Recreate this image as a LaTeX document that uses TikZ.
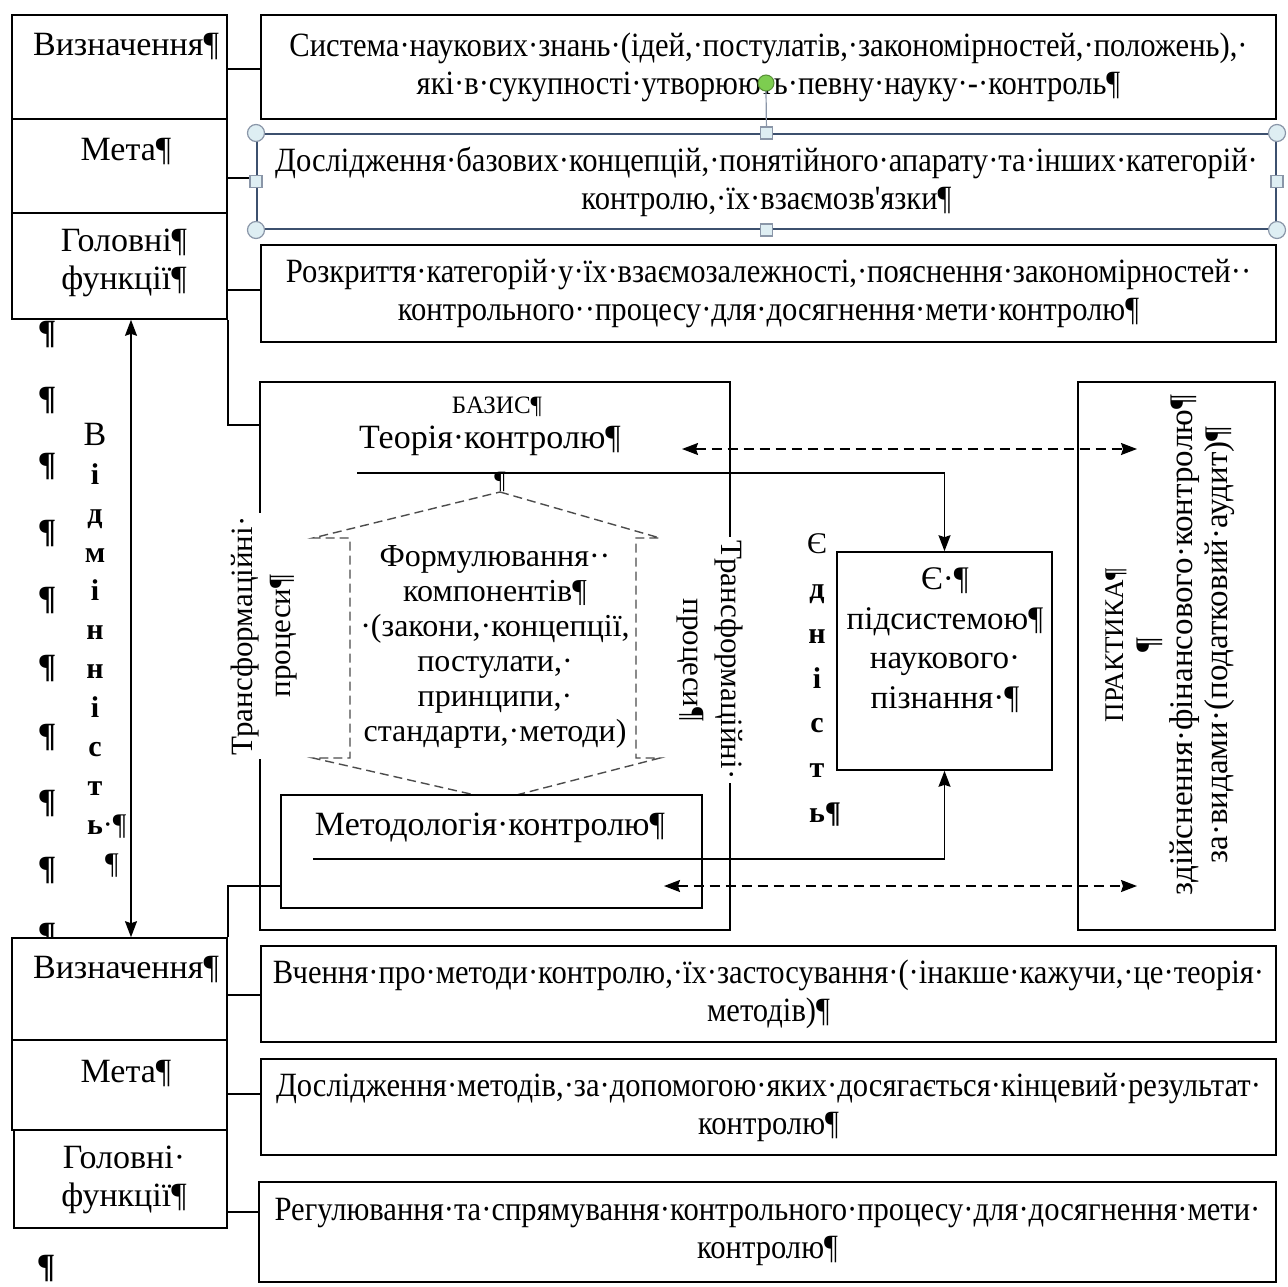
\documentclass[tikz,border=0pt]{standalone}
\usepackage{fontspec}
\setmainfont{Liberation Serif}
\newfontfamily\narrowserif[FakeStretch=0.9]{Liberation Serif}
\usetikzlibrary{arrows.meta}

\newcommand{\bodyfont}{\fontsize{34}{38}\selectfont}
\newcommand{\boxfont}{\narrowserif\fontsize{34}{38}\selectfont}
\newcommand{\capfont}{\fontsize{25}{30}\selectfont}
\newcommand{\sidefont}{\fontsize{33}{34.7}\selectfont}
\newcommand{\vidmfont}{\fontsize{30}{38.9}\selectfont}
\newcommand{\ednfont}{\fontsize{30}{44.8}\selectfont}
\definecolor{selline}{RGB}{60,80,110}
\definecolor{selfill}{RGB}{222,238,243}
\definecolor{selgreen}{RGB}{125,205,80}

\begin{document}
\begin{tikzpicture}[
    x=1pt, y=-1pt,
    >={Stealth[length=16pt,width=12pt,inset=2pt]},
    lbox/.style={
        draw,
        line width=1.6pt,
        fill=white,
        minimum width=215pt,
        inner sep=0pt
    },
    tbox/.style={
        draw,
        line width=1.6pt,
        fill=white,
        minimum width=1015pt,
        align=center,
        font=\boxfont,
        inner sep=0pt
    },
    frame/.style={draw, line width=1.6pt, inner sep=0pt},
    txt/.style={align=center, font=\bodyfont, inner sep=0pt},
    pil/.style={font=\bodyfont\bfseries, inner sep=0pt},
    link/.style={line width=1.6pt},
    dlink/.style={line width=1.6pt, dash pattern=on 10pt off 6pt},
    handle/.style={draw=selline!60, fill=selfill, line width=1.2pt}
]
\useasboundingbox (0,0) rectangle (1287,1287);

% top group
\node[lbox, minimum height=104pt] (def1) at (119.5,67) {};
\node[txt] (def1t) at (126,47) {Визначення¶};
\node[lbox, minimum height=94pt] (goal1) at (119.5,166) {};
\node[txt] (goal1t) at (126,152) {Мета¶};
\node[lbox, minimum height=106pt] (fn1) at (119.5,266) {};
\node[txt] (fn1t) at (124,263) {Головні¶\\функції¶};

\node[tbox, minimum height=104pt] (r1) at (768.5,67)
    {Система·наукових·знань·(ідей,·постулатів,·закономірностей,·положень),·\\які·в·сукупності·утворюють·певну·науку·-·контроль¶};
\node[tbox, minimum height=95pt, minimum width=1019pt, draw=selline, line width=2pt] (r2) at (766.5,181.5)
    {Дослідження·базових·концепцій,·понятійного·апарату·та·інших·категорій·\\контролю,·їх·взаємозв'язки¶};
\node[tbox, minimum height=97pt] (r3) at (768.5,293.5)
    {Розкриття·категорій·у·їх·взаємозалежності,·пояснення·закономірностей··\\контрольного··процесу·для·досягнення·мети·контролю¶};

\draw[link] (def1.east |- 0,69) -- (r1.west |- 0,69);
\draw[link] (goal1.east |- 0,178) -- (r2.west |- 0,178);
\draw[link] (fn1.east |- 0,290) -- (r3.west |- 0,290);

% selection handles
\draw[selline!60, line width=1.2pt] (r2.north) -- (766,91);
\draw[draw=selgreen!70!black, fill=selgreen, line width=1pt] (766,83) circle (8pt);
\draw[handle] (r2.north west) circle (8.5pt);
\draw[handle] (r2.north east) circle (8.5pt);
\draw[handle] (r2.south west) circle (8.5pt);
\draw[handle] (r2.south east) circle (8.5pt);
\node[handle, minimum size=12pt, inner sep=0pt] (hn) at (r2.north) {};
\node[handle, minimum size=12pt, inner sep=0pt] (hs) at (r2.south) {};
\node[handle, minimum size=12pt, inner sep=0pt] (hw) at (r2.west) {};
\node[handle, minimum size=12pt, inner sep=0pt] (he) at (r2.east) {};

% middle part
\node[frame, minimum width=470pt, minimum height=548pt] (basis) at (495,656) {};
\node[frame, minimum width=197pt, minimum height=548pt] (prak) at (1176.5,656) {};

\draw[gray!60!black, line width=1.4pt, dash pattern=on 9pt off 5pt]
    (500,492) -- (660,538) -- (636,538) -- (636,758) -- (660,758) -- (497,800)
    -- (313,758) -- (350,758) -- (350,538) -- (313,538) -- cycle;
\node[txt, font=\fontsize{32}{35}\selectfont] (formt) at (495,647)
    {Формулювання··\\компонентів¶\\·(закони,·концепції,\\постулати,·\\принципи,·\\стандарти,·методи)};

\node[frame, fill=white, minimum width=421pt, minimum height=113pt] (metod) at (491.5,851.5) {};
\node[txt] (metodt) at (490,828) {Методологія·контролю¶};

\node[txt, font=\capfont] (bazis) at (497,407) {БАЗИС¶};
\node[txt] (teor) at (490,441) {Теорія·контролю¶};
\node[txt, font=\capfont] (teorp) at (500,482) {¶};

\node[txt, rotate=90, fill=white, inner sep=4pt, font=\fontsize{31}{38}\selectfont] (trl) at (264,636) {Трансформаційні·\\процеси¶};
\node[txt, rotate=-90, fill=white, inner sep=4pt, font=\fontsize{31}{38}\selectfont] (trr) at (710,660) {Трансформаційні·\\процеси¶};

\node[frame, minimum width=215pt, minimum height=218pt] (ye) at (944.5,661) {};
\node[txt, font=\fontsize{33}{39.5}\selectfont] (yet) at (945,640) {Є·¶\\підсистемою¶\\наукового·\\пізнання·¶};

\node[txt, font=\ednfont] (edn) at (817,680)
    {Є\\\textbf{д}\\\textbf{н}\\\textbf{і}\\\textbf{с}\\\textbf{т}\\\textbf{ь}\rlap{\textbf{¶}}};

\node[txt, rotate=90, font=\sidefont] (prakt) at (1170,645)
    {{\fontsize{27}{34.7}\selectfont ПРАКТИКА¶}\\¶\\здійснення·фінансового·контролю¶\\за·видами·(податковий·аудит)¶};

\coordinate (tl) at (357,473);
\coordinate (ml) at (313,859);
\coordinate (dl1) at (682,449);
\coordinate (dr1) at (1137,449);
\coordinate (dl2) at (664,886);
\coordinate (dr2) at (1137,886);

\draw[link, ->] (tl) -| (ye.north);
\draw[link, ->] (ml) -| (ye.south);
\draw[dlink, <->] (dl1) -- (dr1);
\draw[dlink, <->] (dl2) -- (dr2);

% left column
\node[txt, font=\vidmfont] (vidm) at (95,650)
    {{\fontsize{34}{38.9}\selectfont В}\\\textbf{і}\\\textbf{д}\\\textbf{м}\\\textbf{і}\\\textbf{н}\\\textbf{н}\\\textbf{і}\\\textbf{с}\\\textbf{т}\\\textbf{ь}\rlap{·¶}\\\rlap{\hspace{10pt}¶}};

\node[pil] (p1) at (47,335) {¶};
\node[pil] (p2) at (47,401) {¶};
\node[pil] (p3) at (47,467) {¶};
\node[pil] (p4) at (47,534) {¶};
\node[pil] (p5) at (47,601) {¶};
\node[pil] (p6) at (47,669) {¶};
\node[pil] (p7) at (47,738) {¶};
\node[pil] (p8) at (47,804) {¶};
\node[pil] (p9) at (47,871) {¶};
\node[pil] (p10) at (47,936) {¶};
\node[pil] (p11) at (46,1268) {¶};

% bottom group
\node[lbox, minimum height=102pt] (def2) at (119.5,989) {};
\node[txt] (def2t) at (126,969) {Визначення¶};
\node[lbox, minimum height=90pt] (goal2) at (119.5,1085) {};
\node[txt] (goal2t) at (126,1073) {Мета¶};
\node[lbox, minimum height=98pt, minimum width=213pt] (fn2) at (120.5,1179) {};
\node[txt] (fn2t) at (124,1180) {Головні·\\функції¶};

\node[tbox, minimum height=96pt] (r4) at (768.5,994)
    {Вчення·про·методи·контролю,·їх·застосування·(·інакше·кажучи,·це·теорія·\\методів)¶};
\node[tbox, minimum height=96pt] (r5) at (768.5,1107)
    {Дослідження·методів,·за·допомогою·яких·досягається·кінцевий·результат·\\контролю¶};
\node[tbox, minimum height=100pt, minimum width=1017pt] (r6) at (767.5,1232)
    {Регулювання·та·спрямування·контрольного·процесу·для·досягнення·мети·\\контролю¶};

\draw[link] (def2.east |- 0,995) -- (r4.west |- 0,995);
\draw[link] (goal2.east |- 0,1094) -- (r5.west |- 0,1094);
\draw[link] (fn2.east |- 0,1212) -- (r6.west |- 0,1212);

\draw[link] (fn1.south east) |- (basis.west |- 0,425);
\draw[link] (metod.west |- 0,886) -| (def2.north east);
\draw[link, <->] (fn1.south -| 131,0) -- (def2.north -| 131,0);

\end{tikzpicture}
\end{document}
